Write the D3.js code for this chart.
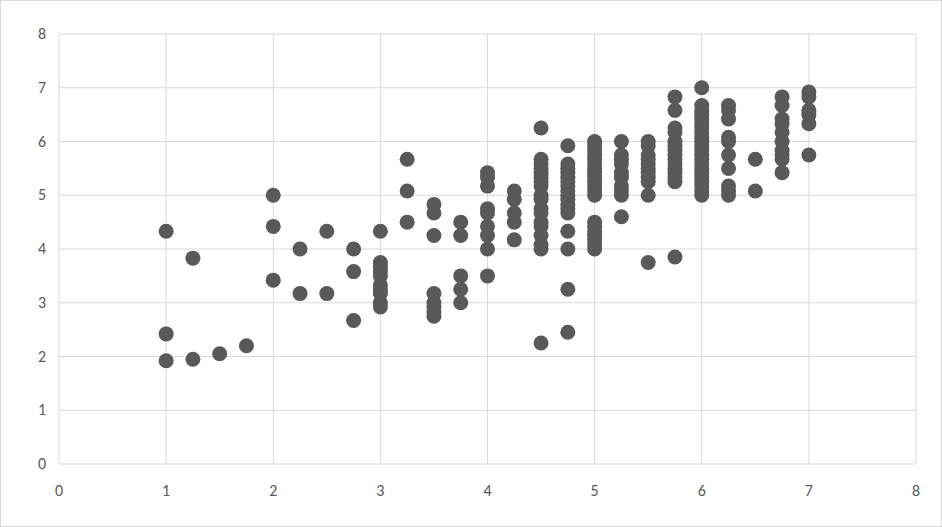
<!DOCTYPE html><html><head><meta charset="utf-8"><script src="https://cdn.jsdelivr.net/npm/d3@7"></script>
<style>body{margin:0;background:#fff}text{font-family:Calibri,Carlito,"Liberation Sans",sans-serif;font-size:16px;fill:#595959}</style></head><body><svg id="c" width="942" height="527"></svg><script>
const xTicks=[0,1,2,3,4,5,6,7,8];
const yTicks=[0,1,2,3,4,5,6,7,8];
const columns=[1,1.25,1.5,1.75,2,2.25,2.5,2.75,3,3.25,3.5,3.75,4,4.25,4.5,4.75,5,5.25,5.5,5.75,6,6.25,6.5,6.75,7];
const yValues=[
[4.33,2.42,1.92],[3.83,1.95],[2.05],[2.2],[5.0,4.42,3.42],[4.0,3.17],[4.33,3.17],[4.0,3.58,2.67],
[4.33,3.75,3.67,3.58,3.5,3.33,3.25,3.17,3.0,2.92],[5.67,5.08,4.5],[4.83,4.67,4.25,3.17,3.0,2.92,2.83,2.75],
[4.5,4.25,3.5,3.25,3.0],[5.42,5.33,5.17,4.75,4.67,4.42,4.25,4.0,3.5],[5.08,4.92,4.67,4.5,4.17],
[6.25,5.67,5.58,5.5,5.42,5.33,5.25,5.17,5.0,4.92,4.75,4.67,4.5,4.42,4.25,4.08,4.0,2.25],
[5.92,5.58,5.5,5.42,5.33,5.25,5.17,5.08,5.0,4.92,4.83,4.75,4.67,4.33,4.0,3.25,2.45],
[6.0,5.92,5.83,5.75,5.67,5.58,5.5,5.42,5.33,5.25,5.17,5.08,5.0,4.5,4.42,4.33,4.25,4.17,4.08,4.0],
[6.0,5.75,5.67,5.58,5.42,5.33,5.17,5.08,5.0,4.6],
[6.0,5.92,5.75,5.67,5.58,5.5,5.42,5.33,5.25,5.0,3.75],
[6.83,6.58,6.25,6.17,6.0,5.92,5.83,5.75,5.67,5.58,5.5,5.42,5.33,5.25,3.85],
[7.0,6.67,6.58,6.5,6.42,6.33,6.25,6.17,6.08,6.0,5.92,5.83,5.75,5.67,5.58,5.5,5.42,5.33,5.25,5.17,5.08,5.0],
[6.67,6.58,6.42,6.08,6.0,5.75,5.5,5.17,5.08,5.0],[5.67,5.08],
[6.83,6.67,6.42,6.33,6.17,6.0,5.83,5.75,5.67,5.42],[6.92,6.83,6.58,6.5,6.33,5.75]];
const pts=[];columns.forEach((x,i)=>yValues[i].forEach(y=>pts.push([x,y])));
const svg=d3.select("#c");
svg.append("rect").attr("x",0.5).attr("y",0.5).attr("width",941).attr("height",526).attr("fill","#fff").attr("stroke","#d9d9d9");
const x=d3.scaleLinear().domain([0,8]).range([59,916]);
const y=d3.scaleLinear().domain([0,8]).range([464,34]);
svg.append("g").selectAll("line").data(xTicks).join("line").attr("x1",d=>x(d)).attr("x2",d=>x(d)).attr("y1",y(0)).attr("y2",y(8)).attr("stroke","#d9d9d9");
svg.append("g").selectAll("line").data(yTicks).join("line").attr("y1",d=>y(d)).attr("y2",d=>y(d)).attr("x1",x(0)).attr("x2",x(8)).attr("stroke","#d9d9d9");
svg.append("g").selectAll("text").data(xTicks).join("text").attr("x",d=>x(d)).attr("y",496).attr("text-anchor","middle").text(d=>d);
svg.append("g").selectAll("text").data(yTicks).join("text").attr("x",46).attr("y",d=>y(d)+5).attr("text-anchor","end").text(d=>d);
svg.append("g").selectAll("circle").data(pts).join("circle").attr("cx",d=>x(d[0])).attr("cy",d=>y(d[1])).attr("r",7.5).attr("fill","#595959");
</script></body></html>
